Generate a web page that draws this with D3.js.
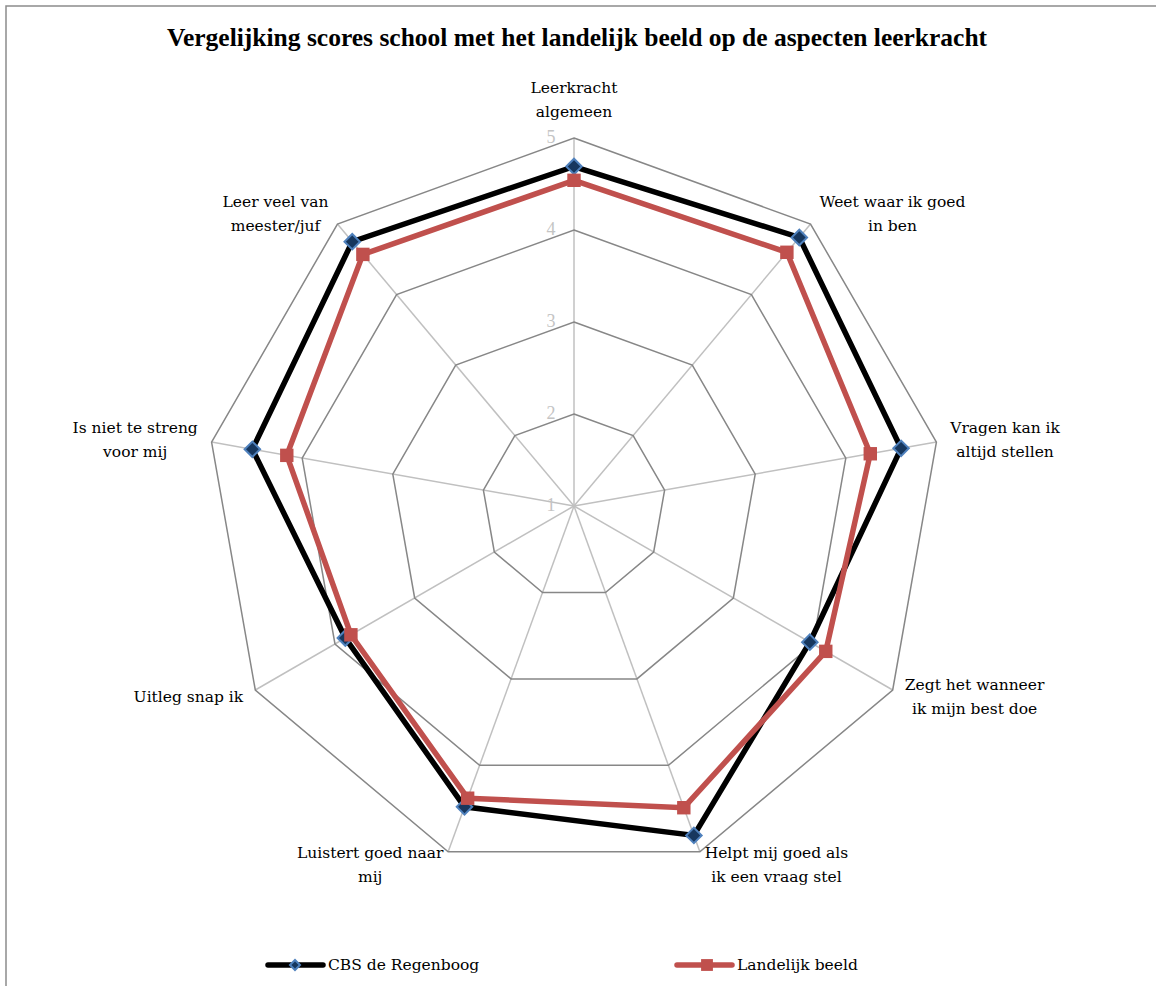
<!DOCTYPE html>
<html>
<head>
<meta charset="utf-8">
<script src="https://cdn.jsdelivr.net/npm/d3@7"></script>
<style>
  body { margin: 0; background: #fff; }
  svg text { font-family: "DejaVu Serif", serif; }
</style>
</head>
<body>
<div id="chart"></div>
<script>
// Aspecten (assen), van boven met de klok mee
const aspecten = [
    ["Leerkracht", "algemeen"],
    ["Weet waar ik goed", "in ben"],
    ["Vragen kan ik", "altijd stellen"],
    ["Zegt het  wanneer", "ik mijn best doe"],
    ["Helpt mij goed  als", "ik een vraag stel"],
    ["Luistert goed naar", "mij"],
    ["Uitleg snap ik"],
    ["Is niet te streng", "voor mij"],
    ["Leer veel  van", "meester/juf"]
];
const scoresSchool = [4.69, 4.81, 4.61, 3.96, 4.81, 4.48, 3.87, 4.55, 4.75];
const scoresLandelijk = [4.54, 4.60, 4.27, 4.16, 4.49, 4.38, 3.80, 4.17, 4.57];
const niveaus = [1, 2, 3, 4, 5];
const seriesNamen = ["CBS de Regenboog", "Landelijk beeld"];

const width = 1156;
const height = 986;
const cx = 574, cy = 506;
const R = 368;

const svg = d3.select("#chart")
    .append("svg")
    .attr("width", width)
    .attr("height", height);

// kader
svg.append("rect")
    .attr("x", 6).attr("y", 6)
    .attr("width", 1160).attr("height", 1000)
    .attr("fill", "none")
    .attr("stroke", "#8c8c8c")
    .attr("stroke-width", 1.5);

svg.append("text")
    .attr("x", 577).attr("y", 46)
    .attr("text-anchor", "middle")
    .style("font-family", "'Liberation Serif', serif")
    .style("font-weight", "bold")
    .style("font-size", "25.5px")
    .text("Vergelijking scores school met het landelijk beeld op de aspecten leerkracht");

const r = d3.scaleLinear().domain([1, 5]).range([0, R]);
const hoek = d3.scaleLinear().domain([0, aspecten.length]).range([0, 2 * Math.PI]);
const punt = (i, v) => [cx + r(v) * Math.sin(hoek(i)), cy - r(v) * Math.cos(hoek(i))];

const g = svg.append("g");

// spaken
g.selectAll(".spaak")
    .data(aspecten)
    .enter().append("line")
    .attr("x1", cx).attr("y1", cy)
    .attr("x2", (d, i) => punt(i, 5)[0])
    .attr("y2", (d, i) => punt(i, 5)[1])
    .attr("stroke", "#c0c0c0")
    .attr("stroke-width", 1.5);

// ringen
const ringLijn = d3.line().curve(d3.curveLinearClosed);
g.selectAll(".ring")
    .data(niveaus.slice(1))
    .enter().append("path")
    .attr("d", n => ringLijn(aspecten.map((a, i) => punt(i, n))))
    .attr("fill", "none")
    .attr("stroke", "#878787")
    .attr("stroke-width", 1.5);

// schaallabels
g.selectAll(".niveau")
    .data(niveaus)
    .enter().append("text")
    .attr("x", cx - 23)
    .attr("y", n => cy - r(n))
    .attr("dy", "0.3em")
    .attr("text-anchor", "middle")
    .attr("fill", "#c4c4c4")
    .style("font-family", "'Liberation Serif', serif")
    .style("font-size", "18px")
    .text(n => n);

// aslabels
const lh = 24;
aspecten.forEach((regels, i) => {
    const a = hoek(i);
    const s = Math.sin(a), c = Math.cos(a);
    const [vx, vy] = punt(i, 5);
    const ax = vx + s * 14, ay = vy - c * 14;
    const blokH = regels.length * lh;
    let midden = ay;
    if (Math.abs(s) < 0.1) midden = ay - c * blokH / 2;
    const t = g.append("text")
        .attr("fill", "#000")
        .style("font-size", "15.5px")
        .attr("text-anchor", "middle");
    t.selectAll("tspan")
        .data(regels)
        .enter().append("tspan")
        .attr("y", (d, k) => midden - blokH / 2 + lh * k + lh / 2)
        .attr("dy", "0.35em")
        .text(d => d);
    // blok uitlijnen: breedste regel bepaalt de breedte
    const bw = d3.max(t.selectAll("tspan").nodes(), n => n.getComputedTextLength());
    let mx = ax;
    if (s > 0.1) mx = ax + bw / 2;
    else if (s < -0.1) mx = ax - bw / 2;
    t.selectAll("tspan").attr("x", mx);
});

// reeksen
const reeksLijn = d3.line().curve(d3.curveLinearClosed);
const reeksen = [
    { naam: seriesNamen[0], waarden: scoresSchool, kleur: "#000000" },
    { naam: seriesNamen[1], waarden: scoresLandelijk, kleur: "#c0504d" }
];

reeksen.forEach(rk => {
    g.append("path")
        .attr("d", reeksLijn(rk.waarden.map((v, i) => punt(i, v))))
        .attr("fill", "none")
        .attr("stroke", rk.kleur)
        .attr("stroke-width", 5.5)
        .attr("stroke-linejoin", "miter");
});

const ruit = (sel, grootte) => sel
    .attr("d", d3.symbol().type(d3.symbolSquare).size(grootte))
    .attr("fill", "#17375e")
    .attr("stroke", "#4f81bd")
    .attr("stroke-width", 2);

g.selectAll(".ruit")
    .data(scoresSchool)
    .enter().append("path")
    .attr("transform", (v, i) => `translate(${punt(i, v)}) rotate(45)`)
    .call(ruit, 120);

g.selectAll(".vierkant")
    .data(scoresLandelijk)
    .enter().append("path")
    .attr("transform", (v, i) => `translate(${punt(i, v)})`)
    .attr("d", d3.symbol().type(d3.symbolSquare).size(180))
    .attr("fill", "#c0504d");

// legenda
const legenda = svg.append("g");
const legItems = [
    { x: 268, naam: seriesNamen[0], kleur: "#000" },
    { x: 677, naam: seriesNamen[1], kleur: "#c0504d" }
];
legItems.forEach((d, k) => {
    legenda.append("line")
        .attr("x1", d.x).attr("x2", d.x + 55)
        .attr("y1", 965).attr("y2", 965)
        .attr("stroke", d.kleur)
        .attr("stroke-width", 5.5)
        .attr("stroke-linecap", "round");
    if (k === 0) {
        legenda.append("path")
            .attr("transform", `translate(${d.x + 27},965) rotate(45)`)
            .call(ruit, 50);
    } else {
        legenda.append("path")
            .attr("transform", `translate(${d.x + 30},965)`)
            .attr("d", d3.symbol().type(d3.symbolSquare).size(140))
            .attr("fill", "#c0504d");
    }
    legenda.append("text")
        .attr("x", d.x + 60).attr("y", 965)
        .attr("dy", "0.35em")
        .style("font-size", "15.5px")
        .text(d.naam);
});
</script>
</body>
</html>
